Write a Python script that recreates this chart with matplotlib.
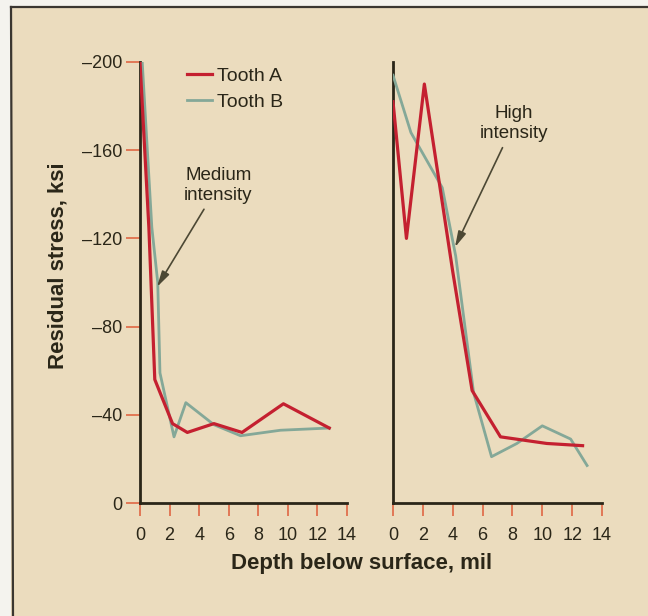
import matplotlib
matplotlib.use("Agg")
import matplotlib.pyplot as plt
from matplotlib.lines import Line2D

plt.rcParams['font.family'] = ['Liberation Sans', 'DejaVu Sans']

# ---- data (depth in mil, residual stress in ksi) ----
med_a_x = [0, 0.6, 1.0, 2.2, 3.2, 5.0, 6.9, 9.7, 12.8]
med_a_y = [-200, -125, -56, -36, -32, -36, -32, -45, -34]
med_b_x = [0.15, 0.8, 1.2, 1.35, 2.3, 3.1, 5.0, 6.8, 9.5, 12.8]
med_b_y = [-200, -125, -100, -59, -30, -45.5, -35.5, -30.5, -33, -34]

high_a_x = [0, 0.9, 2.1, 4.0, 5.3, 7.2, 10.3, 12.7]
high_a_y = [-182, -120, -190, -105, -51, -30, -27, -26]
high_b_x = [0, 1.2, 3.3, 4.2, 5.4, 6.6, 8.3, 10.0, 11.9, 13.0]
high_b_y = [-194, -168, -143, -112, -50, -21, -27, -35, -29, -17]

xticks = [0, 2, 4, 6, 8, 10, 12, 14]
yticks = [0, -40, -80, -120, -160, -200]

RED = '#C42030'
GREEN = '#84A898'
BG = '#EBDCBE'
INK = '#2a2618'
TICK = '#E0704E'

W, H = 648, 616
fig = plt.figure(figsize=(W / 100, H / 100), dpi=100, facecolor='#F4F3EE')

# paper background with border lines
fig.patches.append(plt.Rectangle((11 / W, 0), 1, 1 - 7 / H, transform=fig.transFigure,
                                 facecolor=BG, edgecolor='none', zorder=-10))
fig.add_artist(Line2D([11 / W, 1], [1 - 7 / H, 1 - 7 / H], color='#3a3630', lw=1.6))
fig.add_artist(Line2D([11 / W, 13 / W], [1 - 7 / H, 0], color='#3a3630', lw=1.6))

bottom = 1 - 503 / H
height = (503 - 62) / H
ax1 = fig.add_axes([140 / W, bottom, 207 / W, height])
ax2 = fig.add_axes([393 / W, bottom, 209 / W, height])

for ax in (ax1, ax2):
    ax.set_facecolor('none')
    ax.set_xlim(0, 14)
    ax.set_ylim(0, -200)
    for s in ('top', 'right'):
        ax.spines[s].set_visible(False)
    for s in ('left', 'bottom'):
        ax.spines[s].set_color(INK)
        ax.spines[s].set_linewidth(2.0)
    ax.set_xticks(xticks)
    ax.set_xticklabels([str(t) for t in xticks])
    ax.tick_params(axis='x', length=9, width=1.3, color=TICK, pad=8,
                   labelsize=13, labelcolor=INK)

ax1.set_yticks(yticks)
ax1.set_yticklabels(['0' if t == 0 else '\u2013' + str(-t) for t in yticks])
ax1.tick_params(axis='y', length=10, width=1.3, color=TICK, pad=3,
                labelsize=13, labelcolor=INK)
ax2.set_yticks([])

ax1.plot(med_b_x, med_b_y, color=GREEN, lw=2.0, label='Tooth B', zorder=3)
ax1.plot(med_a_x, med_a_y, color=RED, lw=2.3, label='Tooth A', zorder=4)
ax2.plot(high_b_x, high_b_y, color=GREEN, lw=2.0, zorder=3)
ax2.plot(high_a_x, high_a_y, color=RED, lw=2.3, zorder=4)

handles, labels = ax1.get_legend_handles_labels()
leg = ax1.legend(handles[::-1], labels[::-1], loc='upper left',
                 bbox_to_anchor=(187 / W, 1 - 67 / H), bbox_transform=fig.transFigure,
                 frameon=False, fontsize=14, handlelength=1.3, handletextpad=0.25,
                 labelspacing=0.45, borderpad=0, borderaxespad=0)
for t in leg.get_texts():
    t.set_color(INK)

arrow = dict(arrowstyle='-|>,head_length=0.7,head_width=0.18', color='#4c4834',
             lw=1.2, shrinkA=2, shrinkB=0)
ax1.annotate('Medium\nintensity', xy=(1.15, -98), xytext=(5.3, -144),
             ha='center', va='center', fontsize=13.5, color=INK,
             linespacing=1.25, arrowprops=arrow)
ax2.annotate('High\nintensity', xy=(4.15, -116), xytext=(8.1, -172),
             ha='center', va='center', fontsize=13.5, color=INK,
             linespacing=1.25, arrowprops=arrow)

fig.text(362 / W, 1 - 564 / H, 'Depth below surface, mil', ha='center', va='center',
         fontsize=16, fontweight='bold', color=INK)
fig.text(58 / W, 1 - 266 / H, 'Residual stress, ksi', ha='center', va='center',
         rotation=90, fontsize=16, fontweight='bold', color=INK)

fig.savefig('out.png', dpi=100, facecolor=fig.get_facecolor())
